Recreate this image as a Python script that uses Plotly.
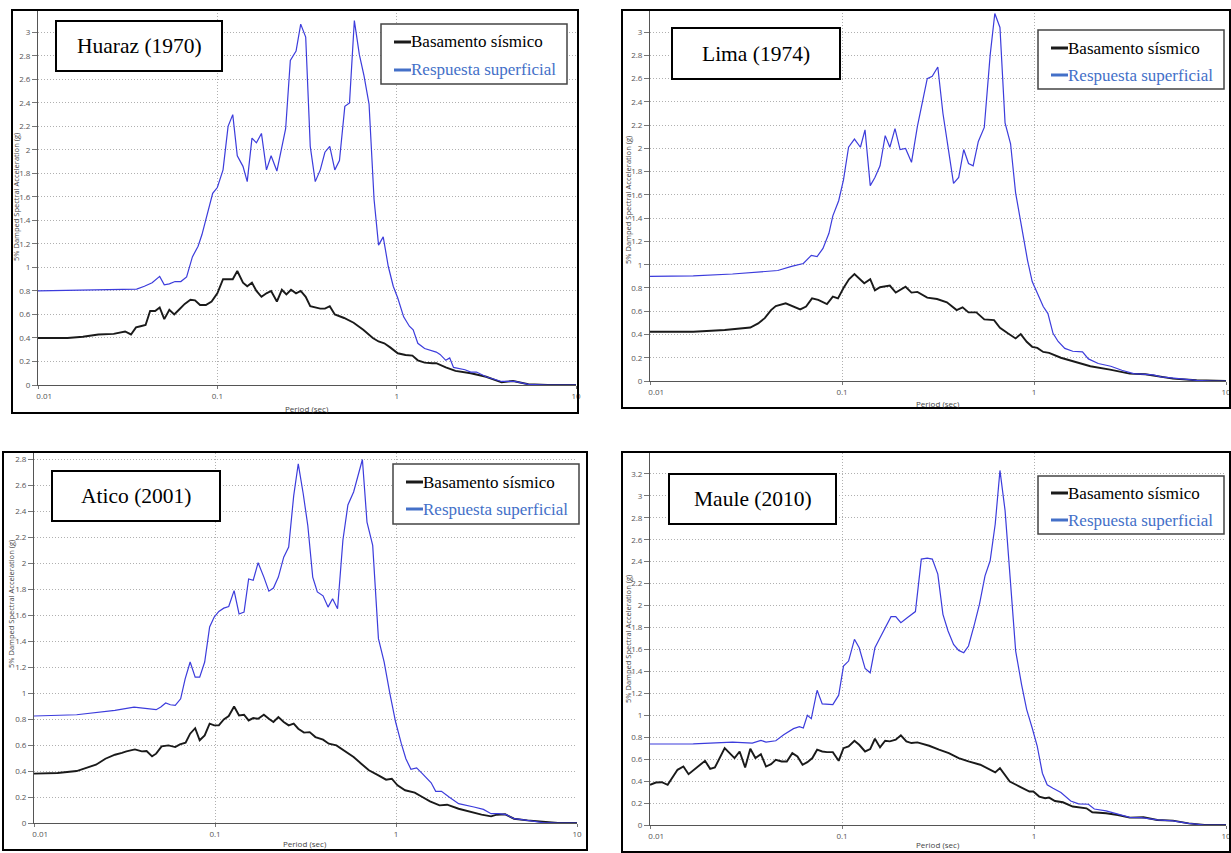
import plotly.graph_objects as go

# ---- data (period in s, Sa in g) ----
t_base_huaraz = [0.01, 0.0146, 0.0178, 0.0217, 0.0264, 0.0306, 0.033, 0.0352, 0.0373, 0.0398, 0.0422, 0.045,
                 0.0477, 0.0506, 0.054, 0.0575, 0.0611, 0.0658, 0.0708, 0.0751, 0.0801, 0.0863, 0.0929, 0.1,
                 0.1076, 0.1219, 0.1292, 0.139, 0.1468, 0.156, 0.1652, 0.1762, 0.1879, 0.1995, 0.2148, 0.229,
                 0.2427, 0.2576, 0.2748, 0.2917, 0.311, 0.3297, 0.375, 0.398, 0.4236, 0.4519, 0.5093, 0.5754,
                 0.6511, 0.7362, 0.7925, 0.8531, 0.92, 1.014, 1.12, 1.224, 1.312, 1.432, 1.581, 1.663, 1.879,
                 2.127, 2.59, 3.155, 3.846, 4.457, 5.42, 6.95, 10]
sa_base_huaraz = [0.40, 0.40, 0.41, 0.43, 0.435, 0.455, 0.43, 0.49, 0.50, 0.51, 0.63, 0.63,
                  0.66, 0.56, 0.64, 0.60, 0.64, 0.69, 0.725, 0.72, 0.68, 0.68, 0.71, 0.78,
                  0.90, 0.90, 0.97, 0.87, 0.84, 0.87, 0.80, 0.75, 0.78, 0.80, 0.71, 0.81,
                  0.77, 0.81, 0.78, 0.80, 0.75, 0.67, 0.65, 0.65, 0.67, 0.60, 0.57, 0.53,
                  0.47, 0.40, 0.37, 0.355, 0.32, 0.27, 0.255, 0.25, 0.21, 0.19, 0.185, 0.185, 0.15,
                  0.12, 0.10, 0.07, 0.023, 0.034, 0.006, 0.0, 0.0]
t_resp_huaraz = [0.01, 0.0355, 0.0392, 0.0433, 0.0477, 0.0506, 0.054, 0.0581, 0.0626, 0.0674, 0.0726, 0.0781,
                 0.0821, 0.0884, 0.0942, 0.1, 0.1076, 0.1148, 0.1219, 0.1292, 0.139, 0.1468, 0.156, 0.1652,
                 0.1762, 0.1879, 0.1995, 0.2148, 0.229, 0.2404, 0.2553, 0.2748, 0.2917, 0.311, 0.3297, 0.3516,
                 0.375, 0.398, 0.4236, 0.4519, 0.4797, 0.514, 0.5458, 0.5808, 0.6194, 0.6577, 0.7015, 0.748,
                 0.7925, 0.8414, 0.8974, 0.957, 1.014, 1.094, 1.177, 1.236, 1.312, 1.432, 1.663, 1.746, 1.879,
                 1.976, 2.075, 2.405, 2.59, 2.787, 3.155, 3.846, 4.57, 5.42, 6.95, 10]
sa_resp_huaraz = [0.80, 0.816, 0.84, 0.87, 0.924, 0.853, 0.86, 0.88, 0.88, 0.92, 1.09, 1.18,
                  1.28, 1.46, 1.63, 1.68, 1.83, 2.20, 2.30, 1.95, 1.86, 1.73, 2.10, 2.06,
                  2.14, 1.83, 1.95, 1.82, 2.02, 2.18, 2.76, 2.84, 3.07, 2.96, 2.03, 1.73,
                  1.83, 1.98, 2.03, 1.83, 1.91, 2.37, 2.40, 3.10, 2.81, 2.63, 2.39, 1.58,
                  1.19, 1.26, 1.01, 0.84, 0.74, 0.58, 0.50, 0.47, 0.355, 0.31, 0.28, 0.26, 0.21,
                  0.23, 0.15, 0.13, 0.11, 0.11, 0.07, 0.03, 0.03, 0.006, 0.0, 0.0]

t_base_lima = [0.01, 0.0168, 0.0245, 0.0333, 0.0366, 0.0396, 0.0427, 0.0452, 0.0509, 0.0559, 0.0606, 0.065,
               0.0698, 0.0752, 0.0835, 0.0896, 0.0953, 0.1018, 0.1087, 0.1161, 0.1229, 0.1306, 0.1403, 0.1484,
               0.1578, 0.1775, 0.1905, 0.2143, 0.2301, 0.247, 0.2779, 0.3126, 0.3519, 0.3955, 0.4246, 0.456,
               0.501, 0.5508, 0.6194, 0.6648, 0.7305, 0.8017, 0.8531, 0.9162, 0.9786, 1.04, 1.117, 1.198,
               1.38, 1.628, 1.789, 1.966, 2.489, 3.151, 3.802, 4.384, 5.293, 7.026, 8.481, 10]
sa_base_lima = [0.423, 0.423, 0.438, 0.46, 0.495, 0.54, 0.61, 0.645, 0.668, 0.64, 0.616, 0.64,
                0.71, 0.697, 0.662, 0.726, 0.71, 0.80, 0.875, 0.92, 0.884, 0.84, 0.875, 0.78,
                0.806, 0.82, 0.76, 0.81, 0.76, 0.766, 0.717, 0.705, 0.677, 0.61, 0.633, 0.59,
                0.59, 0.53, 0.524, 0.458, 0.41, 0.366, 0.403, 0.337, 0.294, 0.285, 0.25, 0.242,
                0.20, 0.164, 0.15, 0.127, 0.098, 0.063, 0.058, 0.043, 0.02, 0.006, 0.0, 0.0]
t_resp_lima = [0.01, 0.0168, 0.0269, 0.0357, 0.0463, 0.0546, 0.0629, 0.0692, 0.0742, 0.0796, 0.0855, 0.0896,
               0.0961, 0.1018, 0.1082, 0.1161, 0.1247, 0.1318, 0.1403, 0.1484, 0.1578, 0.1679, 0.1775, 0.1888,
               0.2007, 0.2143, 0.2301, 0.247, 0.2612, 0.2779, 0.2951, 0.3155, 0.3356, 0.3568, 0.381, 0.4053,
               0.4305, 0.456, 0.482, 0.5129, 0.5508, 0.5909, 0.625, 0.6648, 0.7067, 0.755, 0.8017, 0.861,
               0.9247, 0.9786, 1.04, 1.117, 1.182, 1.256, 1.336, 1.447, 1.591, 1.789, 1.92, 2.161, 2.512,
               2.868, 3.304, 3.802, 4.178, 4.592, 5.546, 7.026, 8.481, 10]
sa_resp_lima = [0.90, 0.904, 0.92, 0.933, 0.95, 0.985, 1.01, 1.08, 1.07, 1.14, 1.27, 1.42,
                1.55, 1.73, 2.01, 2.08, 2.01, 2.16, 1.68, 1.75, 1.85, 2.11, 2.01, 2.17,
                1.99, 2.00, 1.88, 2.19, 2.40, 2.60, 2.62, 2.70, 2.30, 2.01, 1.70, 1.75,
                1.99, 1.87, 1.85, 2.06, 2.18, 2.80, 3.16, 3.04, 2.22, 2.04, 1.62, 1.33,
                1.04, 0.855, 0.754, 0.64, 0.58, 0.41, 0.34, 0.28, 0.256, 0.25, 0.19, 0.15, 0.127,
                0.092, 0.063, 0.058, 0.052, 0.035, 0.02, 0.006, 0.0, 0.0]

t_base_atico = [0.01, 0.0135, 0.0172, 0.0195, 0.022, 0.0248, 0.028, 0.0306, 0.0324, 0.0361, 0.0394, 0.0419,
                0.0449, 0.0473, 0.0507, 0.0553, 0.0603, 0.064, 0.0688, 0.0729, 0.0777, 0.0823, 0.0877, 0.0934,
                0.099, 0.105, 0.1118, 0.1191, 0.1275, 0.1358, 0.1447, 0.1534, 0.1626, 0.1731, 0.1862, 0.1984,
                0.2103, 0.2239, 0.2397, 0.2553, 0.2721, 0.2884, 0.3102, 0.3337, 0.3588, 0.3954, 0.4253, 0.4686,
                0.5166, 0.5832, 0.6427, 0.7084, 0.7998, 0.8813, 0.948, 1.0195, 1.123, 1.269, 1.398, 1.541,
                1.74, 1.917, 2.218, 2.567, 2.969, 3.353, 3.606, 4.012, 4.487, 5.318, 6.459, 7.845, 10]
sa_base_atico = [0.38, 0.385, 0.40, 0.424, 0.449, 0.495, 0.526, 0.54, 0.552, 0.567, 0.552, 0.554,
                 0.513, 0.534, 0.59, 0.598, 0.585, 0.606, 0.619, 0.688, 0.73, 0.637, 0.675, 0.765,
                 0.752, 0.752, 0.798, 0.824, 0.898, 0.829, 0.834, 0.79, 0.808, 0.803, 0.834, 0.803,
                 0.778, 0.816, 0.778, 0.752, 0.765, 0.726, 0.696, 0.70, 0.662, 0.642, 0.611, 0.598,
                 0.56, 0.508, 0.457, 0.406, 0.367, 0.334, 0.341, 0.29, 0.252, 0.234, 0.20, 0.167,
                 0.136, 0.141, 0.11, 0.085, 0.064, 0.051, 0.064, 0.067, 0.033, 0.02, 0.008, 0.0, 0.0]
t_resp_atico = [0.01, 0.0172, 0.028, 0.0357, 0.0473, 0.0502, 0.0534, 0.0567, 0.0603, 0.0646, 0.0684, 0.0729,
                0.0777, 0.0823, 0.0877, 0.0934, 0.099, 0.105, 0.1118, 0.1191, 0.1275, 0.1358, 0.1447, 0.1534,
                0.1626, 0.1731, 0.1862, 0.1984, 0.2103, 0.2239, 0.2397, 0.2553, 0.2721, 0.2884, 0.3072, 0.3257,
                0.3467, 0.3676, 0.3954, 0.4212, 0.4463, 0.4755, 0.5091, 0.5423, 0.5832, 0.6123, 0.6522, 0.6914,
                0.7435, 0.7998, 0.8603, 0.9252, 0.9952, 1.07, 1.134, 1.209, 1.3, 1.398, 1.564, 1.657, 1.783,
                1.964, 2.218, 2.694, 3.042, 3.353, 3.694, 4.071, 4.487, 5.318, 6.459, 7.845, 10]
sa_resp_atico = [0.824, 0.834, 0.868, 0.893, 0.873, 0.893, 0.924, 0.911, 0.906, 0.957, 1.11, 1.24,
                 1.124, 1.124, 1.24, 1.51, 1.586, 1.63, 1.655, 1.668, 1.79, 1.61, 1.625, 1.88,
                 1.87, 2.005, 1.894, 1.786, 1.81, 1.894, 2.048, 2.125, 2.52, 2.767, 2.536, 2.29,
                 1.894, 1.78, 1.75, 1.663, 1.727, 1.65, 2.18, 2.45, 2.55, 2.65, 2.80, 2.318,
                 2.138, 1.42, 1.24, 0.996, 0.778, 0.611, 0.495, 0.413, 0.424, 0.38, 0.31, 0.244, 0.244,
                 0.20, 0.149, 0.123, 0.105, 0.072, 0.072, 0.064, 0.033, 0.02, 0.003, 0.0, 0.0]

t_base_maule = [0.01, 0.01073, 0.01152, 0.01236, 0.01391, 0.01493, 0.01588, 0.01696, 0.01828, 0.01935, 0.02057,
                0.02177, 0.02449, 0.02756, 0.0293, 0.0313, 0.0333, 0.0354, 0.0378, 0.0402, 0.0427, 0.0452,
                0.0485, 0.0516, 0.0551, 0.0586, 0.0623, 0.066, 0.0701, 0.0742, 0.0789, 0.0835, 0.0896, 0.0961,
                0.1018, 0.1082, 0.1161, 0.1229, 0.1319, 0.1402, 0.1484, 0.1578, 0.1678, 0.1775, 0.1905, 0.2026,
                0.2164, 0.2301, 0.247, 0.2844, 0.32, 0.3601, 0.4053, 0.4558, 0.5251, 0.5909, 0.6282, 0.6648,
                0.7069, 0.7479, 0.8414, 0.9469, 0.9925, 1.065, 1.143, 1.198, 1.286, 1.414, 1.591, 1.876,
                2.013, 2.375, 2.735, 3.151, 3.716, 4.384, 5.293, 6.392, 7.72, 10]
sa_base_maule = [0.366, 0.387, 0.39, 0.366, 0.503, 0.533, 0.463, 0.503, 0.555, 0.585, 0.512,
                 0.524, 0.70, 0.61, 0.67, 0.524, 0.695, 0.61, 0.646, 0.533, 0.555, 0.594,
                 0.579, 0.579, 0.655, 0.625, 0.549, 0.573, 0.61, 0.686, 0.67, 0.664, 0.664, 0.585,
                 0.70, 0.716, 0.768, 0.731, 0.67, 0.692, 0.786, 0.707, 0.768, 0.762, 0.777, 0.817,
                 0.762, 0.747, 0.753, 0.722, 0.686, 0.655, 0.61, 0.579, 0.549, 0.503, 0.479, 0.518,
                 0.457, 0.396, 0.35, 0.305, 0.305, 0.259, 0.244, 0.25, 0.219, 0.207, 0.168, 0.152,
                 0.116, 0.107, 0.091, 0.067, 0.07, 0.046, 0.04, 0.015, 0.0, 0.0]
t_resp_maule = [0.01, 0.0168, 0.0269, 0.0341, 0.0378, 0.0402, 0.0452, 0.0497, 0.0559, 0.06, 0.0629, 0.066,
                0.0692, 0.0742, 0.0789, 0.0835, 0.0896, 0.0961, 0.1018, 0.1082, 0.1161, 0.1229, 0.1319, 0.1402,
                0.1484, 0.1578, 0.1694, 0.18, 0.1905, 0.2026, 0.2195, 0.2412, 0.2589, 0.2779, 0.2954, 0.3155,
                0.3355, 0.3567, 0.3811, 0.4053, 0.4307, 0.4558, 0.4893, 0.5201, 0.5557, 0.5909, 0.6282, 0.6648,
                0.7069, 0.7479, 0.8028, 0.8615, 0.9161, 0.9786, 1.04, 1.106, 1.171, 1.256, 1.381, 1.553, 1.707,
                1.92, 2.061, 2.375, 2.735, 3.151, 3.63, 4.384, 5.293, 6.392, 7.72, 10]
sa_resp_maule = [0.738, 0.74, 0.756, 0.747, 0.771, 0.756, 0.768, 0.823, 0.878, 0.896, 0.884, 1.0,
                 0.969, 1.228, 1.103, 1.103, 1.097, 1.183, 1.448, 1.494, 1.692, 1.615, 1.426, 1.387,
                 1.615, 1.707, 1.813, 1.899, 1.899, 1.844, 1.89, 1.945, 2.423, 2.432, 2.423, 2.286,
                 1.92, 1.768, 1.646, 1.591, 1.57, 1.631, 1.829, 2.012, 2.271, 2.408, 2.743, 3.231,
                 2.865, 2.255, 1.585, 1.28, 1.052, 0.884, 0.716, 0.472, 0.366, 0.335, 0.296, 0.219, 0.192,
                 0.189, 0.146, 0.128, 0.098, 0.07, 0.067, 0.046, 0.037, 0.015, 0.0, 0.0]

series_names = ["Basamento sísmico", "Respuesta superficial"]
x_tickvals = [0.01, 0.1, 1, 10]
NB = "\u00a0"
# the first label sits inside the plot in the original, padded with no-break spaces
x_ticktext = [NB * 6 + "0.01", "0.1", "1", "10"]
x_title = "Period (sec)"
y_title = "5% Damped Spectral Acceleration (g)"

W, H = 1231, 853

def fx(px):
    return px / W

def fy(py):
    return 1 - py / H

# layout of each screenshot, in pixels of the page
panels = [
    dict(title="Huaraz (1970)", plot=(38, 576, 10, 385), ymax=3.19, frame=(12, 578, 10, 413),
         tbox=(56, 222, 21, 71), lbox=(381, 567, 24, 84), rows=(42, 70), ytl=(16, 197), xtl=(307, 408),
         data=(t_base_huaraz, sa_base_huaraz, t_resp_huaraz, sa_resp_huaraz)),
    dict(title="Lima (1974)", plot=(650, 1226, 10, 381), ymax=3.19, frame=(622, 1230, 10, 408),
         tbox=(672, 840, 28, 79), lbox=(1038, 1224, 30, 89), rows=(48, 75), ytl=(628, 200), xtl=(938, 404),
         data=(t_base_lima, sa_base_lima, t_resp_lima, sa_resp_lima)),
    dict(title="Atico (2001)", plot=(34, 577, 453, 823), ymax=2.85, frame=(3, 587, 452, 850),
         tbox=(52, 220, 471, 521), lbox=(393, 579, 464, 524), rows=(482, 509), ytl=(11, 604), xtl=(305, 843),
         data=(t_base_atico, sa_base_atico, t_resp_atico, sa_resp_atico)),
    dict(title="Maule (2010)", plot=(650, 1226, 453, 825), ymax=3.39, frame=(622, 1230, 452, 852),
         tbox=(669, 836, 474, 524), lbox=(1038, 1224, 476, 534), rows=(493, 520), ytl=(628, 639), xtl=(938, 844),
         data=(t_base_maule, sa_base_maule, t_resp_maule, sa_resp_maule)),
]

BASE_COLOR = "#1a1a1a"
RESP_COLOR = "#3c3cdc"
LEG_BLUE = "#4470c8"
GRID = "#b0b0b0"
SERIF = "Liberation Serif, Times New Roman, serif"
SANS = "Open Sans"

fig = go.Figure()
shapes = []
annotations = []
layout_axes = {}

for i, p in enumerate(panels):
    n = "" if i == 0 else str(i + 1)
    xa, ya = "x" + n, "y" + n
    tb, sb, tr, sr = p["data"]
    fig.add_trace(go.Scatter(x=tb, y=sb, mode="lines", name=series_names[0],
                             line=dict(color=BASE_COLOR, width=1.9), xaxis=xa, yaxis=ya, showlegend=False))
    fig.add_trace(go.Scatter(x=tr, y=sr, mode="lines", name=series_names[1],
                             line=dict(color=RESP_COLOR, width=1.2), xaxis=xa, yaxis=ya, showlegend=False))

    x0, x1, y0, y1 = p["plot"]
    layout_axes["xaxis" + n] = dict(
        type="log", range=[-2, 1], domain=[fx(x0), fx(x1)], anchor=ya,
        tickvals=x_tickvals, ticktext=x_ticktext, ticklabeloverflow="allow", showgrid=True, gridcolor=GRID,
        griddash="1px,2px", gridwidth=1, showline=True, linecolor="#555", linewidth=1,
        ticks="outside", ticklen=3, tickcolor="#777", tickfont=dict(family=SANS, size=8, color="#555"),
        automargin=False, zeroline=False)
    layout_axes["yaxis" + n] = dict(
        range=[0, p["ymax"]], domain=[fy(y1), fy(y0)], anchor=xa, tick0=0, dtick=0.2,
        showgrid=True, gridcolor=GRID, griddash="1px,2px", gridwidth=1, showline=True,
        linecolor="#555", linewidth=1, ticks="outside", ticklen=5, tickcolor="#777",
        tickfont=dict(family=SANS, size=8, color="#555"), zeroline=False, automargin=False)

    # axis titles
    tx, ty = p["ytl"]
    annotations.append(dict(text=y_title, xref="paper", yref="paper", x=fx(tx), y=fy(ty), textangle=-90,
                            xanchor="center", yanchor="middle", showarrow=False,
                            font=dict(family=SANS, size=7.5, color="#444")))
    tx, ty = p["xtl"]
    annotations.append(dict(text=x_title, xref="paper", yref="paper", x=fx(tx), y=fy(ty),
                            xanchor="center", yanchor="middle", showarrow=False,
                            font=dict(family=SANS, size=8, color="#444")))

    # outer frame of the screenshot
    fx0, fx1, fy0, fy1 = p["frame"]
    shapes.append(dict(type="rect", xref="paper", yref="paper", x0=fx(fx0), x1=fx(fx1),
                       y0=fy(fy1), y1=fy(fy0), line=dict(color="black", width=2), layer="above"))
    # event name box
    bx0, bx1, by0, by1 = p["tbox"]
    shapes.append(dict(type="rect", xref="paper", yref="paper", x0=fx(bx0), x1=fx(bx1),
                       y0=fy(by1), y1=fy(by0), line=dict(color="black", width=2),
                       fillcolor="white", layer="above"))
    annotations.append(dict(text=p["title"], xref="paper", yref="paper", x=fx((bx0 + bx1) / 2),
                            y=fy((by0 + by1) / 2), xanchor="center", yanchor="middle", showarrow=False,
                            font=dict(family=SERIF, size=21.5, color="black")))
    # legend box
    lx0, lx1, ly0, ly1 = p["lbox"]
    shapes.append(dict(type="rect", xref="paper", yref="paper", x0=fx(lx0), x1=fx(lx1),
                       y0=fy(ly1), y1=fy(ly0), line=dict(color="#444", width=1.5),
                       fillcolor="white", layer="above"))
    for name, row, lcol, tcol in zip(series_names, p["rows"], [BASE_COLOR, LEG_BLUE], ["black", LEG_BLUE]):
        shapes.append(dict(type="line", xref="paper", yref="paper", x0=fx(lx0 + 13), x1=fx(lx0 + 30),
                           y0=fy(row), y1=fy(row), line=dict(color=lcol, width=3), layer="above"))
        annotations.append(dict(text=name, xref="paper", yref="paper", x=fx(lx0 + 29), y=fy(row),
                                xanchor="left", yanchor="middle", showarrow=False, borderpad=0,
                                font=dict(family=SERIF, size=17, color=tcol)))

fig.update_layout(width=W, height=H, margin=dict(l=0, r=0, t=0, b=0),
                  paper_bgcolor="white", plot_bgcolor="white",
                  shapes=shapes, annotations=annotations, **layout_axes)

# the page's default body margin would push the figure 8px right and down
fig.write_html("out.html", config={"displayModeBar": False},
               post_script="document.body.style.margin='0';")
